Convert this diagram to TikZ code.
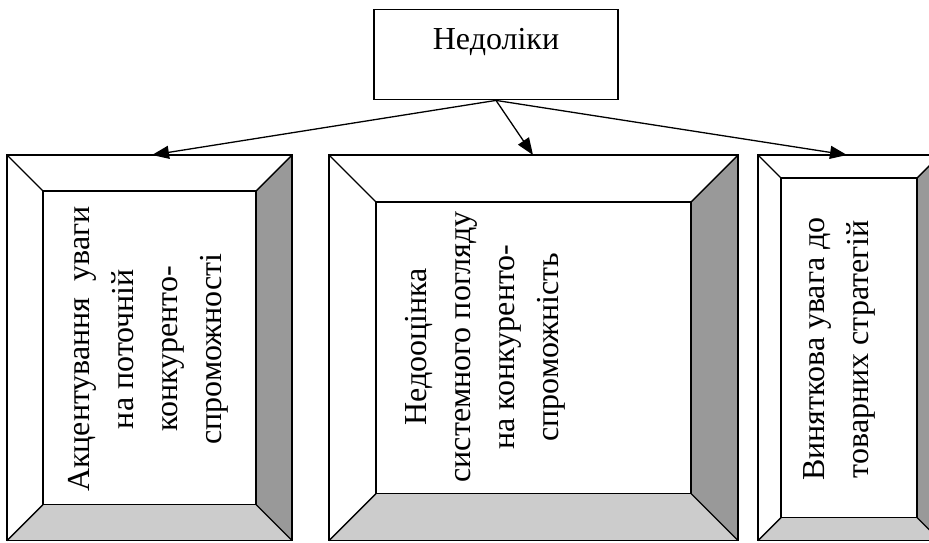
\documentclass[tikz,border=0pt]{standalone}
\usepackage{fontspec}
\setmainfont{Liberation Serif}
\usetikzlibrary{arrows.meta}

\tikzset{
  frame/.style={draw=black, line width=1.4pt, line join=miter},
  vtext/.style={rotate=90, anchor=north, align=center, inner sep=0pt,
    font=\fontsize{32}{44}\selectfont},
}

% bevelled box: x1, y1, x2, y2, bevel
\newcommand{\bevelbox}[5]{%
  \fill[white] (#1,#2) rectangle (#3,#4);
  \fill[black!40] (#3,#2) -- (#3-#5,#2+#5) -- (#3-#5,#4-#5) -- (#3,#4) -- cycle;
  \fill[black!20] (#1,#4) -- (#1+#5,#4-#5) -- (#3-#5,#4-#5) -- (#3,#4) -- cycle;
  \draw[frame] (#1,#2) rectangle (#3,#4);
  \draw[frame] (#1+#5,#2+#5) rectangle (#3-#5,#4-#5);
  \draw[frame] (#1,#2) -- (#1+#5,#2+#5) (#3,#2) -- (#3-#5,#2+#5)
    (#1,#4) -- (#1+#5,#4-#5) (#3,#4) -- (#3-#5,#4-#5);
}

\begin{document}
\begin{tikzpicture}[x=1pt, y=-1pt, >={Triangle[length=17pt, width=13pt]}, line width=1.3pt]
\useasboundingbox (0,0) rectangle (929,542);
\clip (0,0) rectangle (929,542);

\bevelbox{7}{155}{292}{540.5}{36}
\bevelbox{329}{155}{738}{540.5}{47}
\bevelbox{758}{155}{940}{540.5}{23}

\node[frame, anchor=north, minimum width=244pt, inner ysep=18pt,
  text height=22pt, text depth=32pt, font=\fontsize{32}{40}\selectfont]
  (ned) at (496,9) {Недоліки};

\coordinate (in1) at (152,155);
\coordinate (in2) at (533,155);
\coordinate (in3) at (847,155);

\draw [->] (ned.south) -- (in1);
\draw [->] (ned.south) -- (in2);
\draw [->] (ned.south) -- (in3);

\node[vtext] (akc) at (68,349) {Акцентування\ \ уваги\\на поточній\\конкуренто-\\спроможності};
\node[vtext] (nedo) at (405,347) {Недооцінка\\системного погляду\\на конкуренто-\\спроможність};
\node[vtext] (vyn) at (803,349) {Виняткова увага до\\товарних стратегій};
\end{tikzpicture}
\end{document}
